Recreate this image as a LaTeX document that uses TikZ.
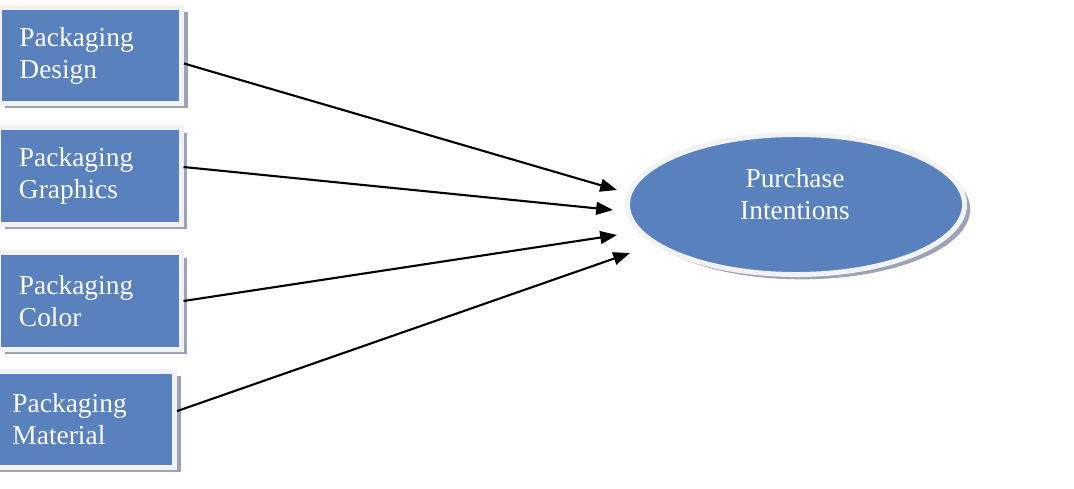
\documentclass[tikz,border=0pt]{standalone}
\usepackage{fontspec}
\setmainfont{Liberation Serif}
\usepackage{xcolor}
\usepackage{tikz}
\usetikzlibrary{arrows.meta, shapes.geometric, shadows}

\definecolor{boxblue}{HTML}{5981BD}
\definecolor{rimgray}{HTML}{F2F2F2}
\definecolor{shadegray}{HTML}{9BA3B4}

\tikzset{
  factor/.style={rectangle, fill=boxblue, draw=rimgray, line width=0.125cm,
    minimum width=4.55cm, minimum height=2.4cm, inner xsep=0.5cm,
    text width=3.55cm, align=left, text=white,
    font=\fontsize{19.5}{22.8}\selectfont,
    drop shadow={shadow xshift=0.15cm, shadow yshift=-0.12cm, fill=shadegray, opacity=1}},
  outcome/.style={ellipse, fill=boxblue, draw=rimgray, line width=0.125cm,
    minimum width=8.425cm, minimum height=3.5cm, inner sep=0pt,
    drop shadow={shadow xshift=0.14cm, shadow yshift=-0.12cm, fill=shadegray, opacity=1}},
  outtext/.style={align=center, text=white, font=\fontsize{19.5}{22.8}\selectfont},
  link/.style={-{Triangle[length=0.42cm,width=0.32cm]}, line width=1.5pt, black}
}

\begin{document}
\begin{tikzpicture}[x=0.025cm, y=-0.025cm]
\useasboundingbox (0,0) rectangle (1074,488);
\node[factor] (design)   at (90.5,55.5) {Packaging\\Design};
\node[factor] (graphics) at (90,176)    {Packaging\\Graphics};
\node[factor] (color)    at (90,301)    {Packaging\\Color};
\node[factor] (material) at (83.5,419.5) {Packaging\\Material};
\node[outcome] (intent) at (796,204.5) {};
\node[outtext] (intentlbl) at (795,194) {Purchase\\Intentions};
\coordinate (t1) at (617,190);
\coordinate (t2) at (613,210);
\coordinate (t3) at (617,235);
\coordinate (t4) at (630,253);
\draw[link] ([yshift=-0.2cm]design.east) -- (t1);
\draw[link] ([yshift=0.225cm]graphics.east) -- (t2);
\draw[link] (color.east) -- (t3);
\draw[link] ([yshift=0.21cm]material.east) -- (t4);
\end{tikzpicture}
\end{document}
